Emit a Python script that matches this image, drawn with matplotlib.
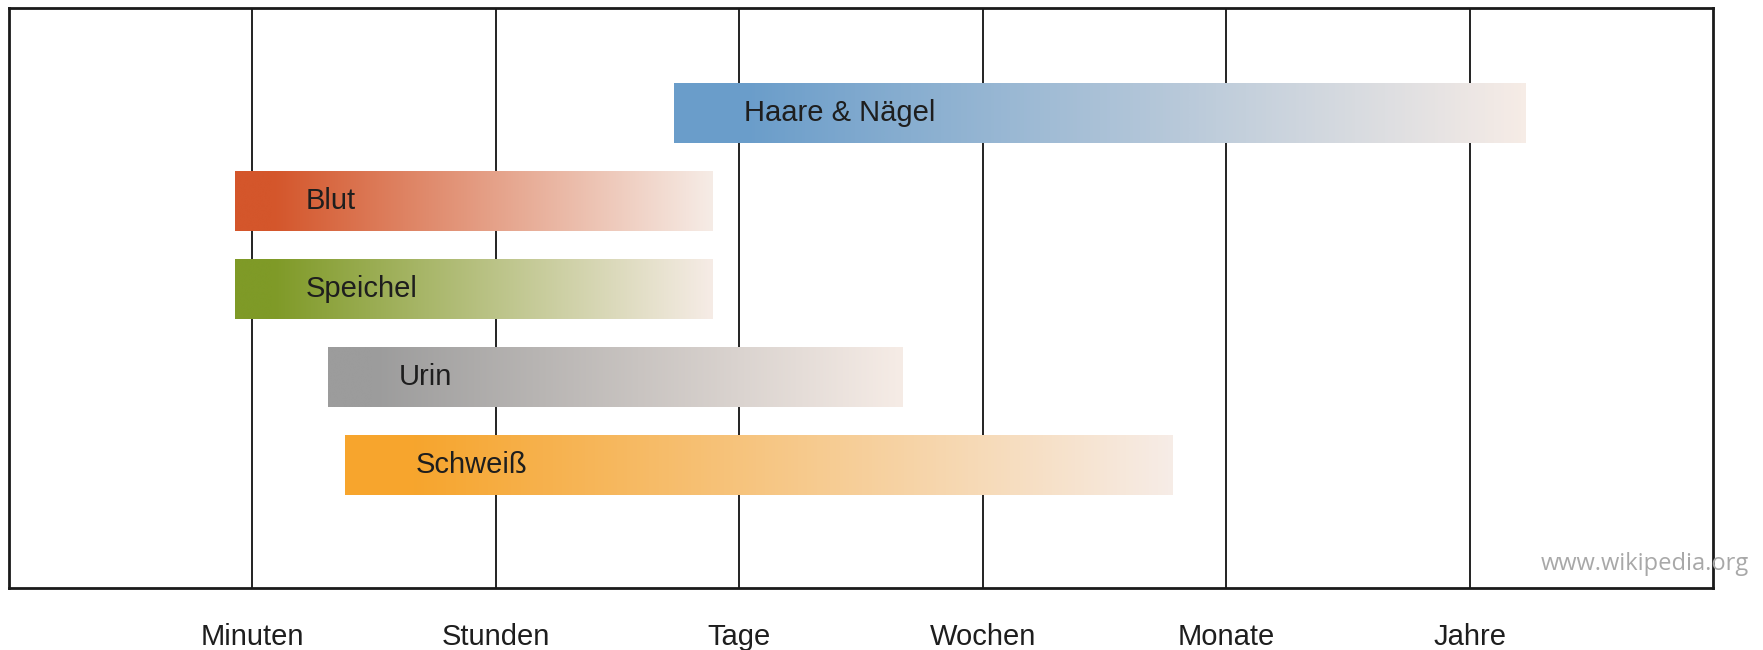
import numpy as np
import matplotlib
matplotlib.use("Agg")
import matplotlib.pyplot as plt
from matplotlib.colors import LinearSegmentedColormap

# time scale categories (x axis)
time_labels = ["Minuten", "Stunden", "Tage", "Wochen", "Monate", "Jahre"]

# sample matrices, top to bottom, with detection window start/end on the time scale
samples = ["Haare & Nägel", "Blut", "Speichel", "Urin", "Schweiß"]
start = [2.73, 0.93, 0.93, 1.31, 1.38]
end = [6.23, 2.89, 2.89, 3.67, 4.78]
colors = ["#6a9dca", "#d4562b", "#7f9a27", "#9c9c9c", "#f7a52d"]
fade_to = "#f6ece6"

plt.rcParams["font.family"] = ["Liberation Sans", "DejaVu Sans"]

fig = plt.figure(figsize=(17.63, 6.5), dpi=100)
ax = fig.add_axes([9 / 1763, 62 / 650, 1704 / 1763, 580 / 650])

# vertical lines at each time unit
for i in range(len(time_labels)):
    ax.axvline(i + 1, color="#222222", lw=1.4, zorder=1)

grad = np.linspace(0, 1, 256).reshape(1, -1)
bar_h = 0.68
for i, name in enumerate(samples):
    y = 5.4 - i
    cmap = LinearSegmentedColormap.from_list(
        name, [(0, colors[i]), (0.08, colors[i]), (1, fade_to)])
    ax.imshow(grad, cmap=cmap, aspect="auto", interpolation="bicubic",
              extent=(start[i], end[i], y - bar_h / 2, y + bar_h / 2), zorder=2)
    ax.text(start[i] + 0.29, y, name, fontsize=21, color="#1e1e1e",
            va="center", ha="left", zorder=3)

ax.set_xlim(0, 7)
ax.set_ylim(0, 6.59)
ax.set_xticks(range(1, len(time_labels) + 1))
ax.set_xticklabels(time_labels, fontsize=21, color="#1e1e1e")
ax.tick_params(axis="x", length=0, pad=25)
ax.set_yticks([])
for s in ax.spines.values():
    s.set_linewidth(2)
    s.set_color("#1a1a1a")

fig.text(1541 / 1763, 1 - 570 / 650, "www.wikipedia.org", fontsize=17,
         color="#a8a8a8", family="Open Sans", ha="left", va="baseline")

fig.savefig("out.png", dpi=100)
